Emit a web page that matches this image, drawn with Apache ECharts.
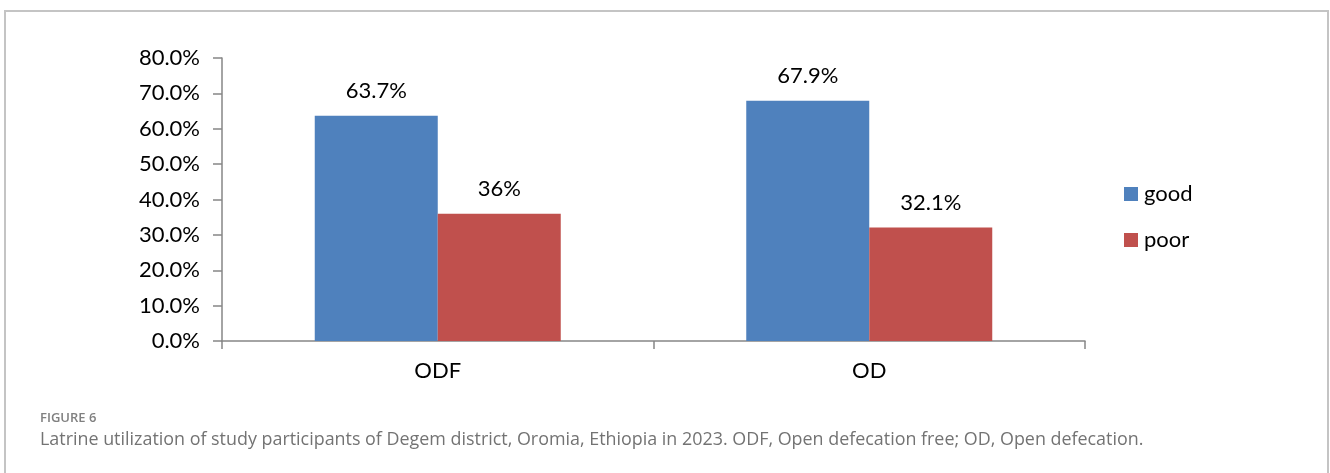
<!DOCTYPE html>
<html>
<head>
<meta charset="utf-8">
<script src="https://cdn.jsdelivr.net/npm/echarts@6/dist/echarts.min.js"></script>
<style>
html,body{margin:0;padding:0;background:#fff;}
#frame{position:absolute;left:4px;top:10px;width:1321px;height:480px;border:2px solid #c4c4c4;border-bottom:none;}
#chart{position:absolute;left:0;top:0;width:1330px;height:473px;}
</style>
</head>
<body>
<div id="frame"></div>
<div id="chart"></div>
<script>
const categories = ['ODF', 'OD'];
const goodValues = [63.7, 67.9];
const poorValues = [36.0, 32.1];
const goodLabels = ['63.7%', '67.9%'];
const poorLabels = ['36%', '32.1%'];
const seriesNames = ['good', 'poor'];
const captionHead = 'FIGURE 6';
const captionText = 'Latrine utilization of study participants of Degem district, Oromia, Ethiopia in 2023. ODF, Open defecation free; OD, Open defecation.';

const font = 'Lato, "Liberation Sans", sans-serif';
const chart = echarts.init(document.getElementById('chart'), null, {renderer: 'canvas'});
chart.setOption({
  animation: false,
  backgroundColor: 'transparent',
  grid: {left: 222, right: 245, top: 58, bottom: 132, containLabel: false},
  legend: {
    orient: 'vertical',
    left: 1119, top: 178,
    itemWidth: 14, itemHeight: 14, itemGap: 24,
    icon: 'rect',
    textStyle: {fontFamily: font, fontSize: 22, color: '#000', padding: [0,0,0,1]},
    data: seriesNames
  },
  xAxis: {
    type: 'category',
    data: categories,
    axisLine: {lineStyle: {color: '#868686', width: 1.5}},
    axisTick: {show: true, length: 8, lineStyle: {color: '#868686', width: 1.5}},
    axisLabel: {fontFamily: font, fontSize: 22, color: '#000', margin: 19}
  },
  yAxis: {
    type: 'value',
    min: 0, max: 80, interval: 10,
    axisLine: {show: true, lineStyle: {color: '#868686', width: 1.5}},
    axisTick: {show: true, length: 9, inside: false, lineStyle: {color: '#868686', width: 1.5}},
    splitLine: {show: false},
    axisLabel: {fontFamily: font, fontSize: 22, color: '#000', margin: 22,
      formatter: v => v.toFixed(1) + '%'}
  },
  series: [
    {
      name: seriesNames[0], type: 'bar', data: goodValues,
      barWidth: 123, barGap: '0%',
      itemStyle: {color: '#4F81BD'},
      label: {show: true, position: 'top', distance: 14, fontFamily: font, fontSize: 22, color: '#000',
        formatter: p => goodLabels[p.dataIndex]}
    },
    {
      name: seriesNames[1], type: 'bar', data: poorValues,
      barWidth: 123, barGap: '0%',
      itemStyle: {color: '#C0504D'},
      label: {show: true, position: 'top', distance: 14, fontFamily: font, fontSize: 22, color: '#000',
        formatter: p => poorLabels[p.dataIndex]}
    }
  ],
  graphic: [
    {type: 'text', left: 40, top: 412, style: {text: captionHead, fontFamily: '"Open Sans", sans-serif', fontSize: 13, fontWeight: 600, fill: '#808080'}},
    {type: 'text', left: 40, top: 431, style: {text: captionText, fontFamily: '"Open Sans", sans-serif', fontSize: 17.9, fill: '#737373'}}
  ]
});
</script>
</body>
</html>
